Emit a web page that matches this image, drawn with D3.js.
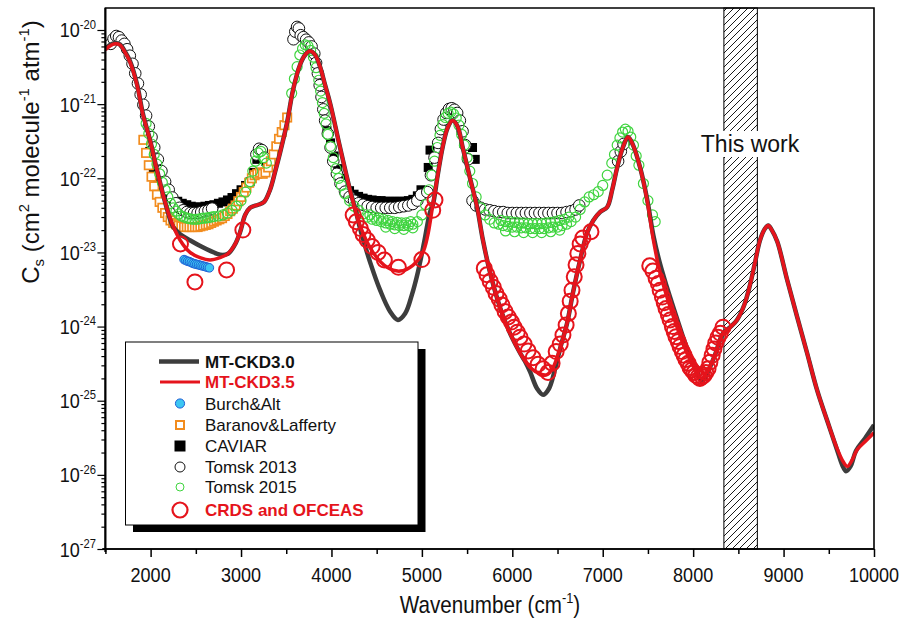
<!DOCTYPE html>
<html>
<head>
<meta charset="utf-8">
<script src="https://cdn.jsdelivr.net/npm/d3@7"></script>
<style>
  html, body { margin: 0; padding: 0; background: #fff; }
  svg text { font-family: "Liberation Sans", Arial, Helvetica, sans-serif; fill: #111; }
</style>
</head>
<body>
<svg id="chart" width="910" height="628"></svg>
<script>
// ---- Water vapour self-continuum cross-sections, Cs (cm2 molecule-1 atm-1) ----
// [wavenumber cm-1, Cs]

const mtckd35 = [
  [1500,5.4e-21],[1550,6.1e-21],[1605,6.5e-21],[1660,6.3e-21],[1717,5.0e-21],[1772,3.7e-21],
  [1850,1.8e-21],[1915,7.2e-22],[1993,3.3e-22],[2070,1.3e-22],[2140,5.9e-23],[2215,2.9e-23],
  [2325,1.47e-23],[2436,1.0e-23],[2546,8.5e-24],[2657,7.9e-24],[2768,8.5e-24],[2855,9.6e-24],
  [2930,1.26e-23],[2990,1.88e-23],[3045,3.2e-23],[3100,4.0e-23],[3190,4.4e-23],[3255,4.8e-23],
  [3320,6.95e-23],[3375,1.2e-22],[3431,2.2e-22],[3510,5.7e-22],[3575,1.55e-21],[3653,3.4e-21],
  [3708,4.6e-21],[3763,5.2e-21],[3820,4.6e-21],[3874,3.2e-21],[3930,1.8e-21],[3985,1.03e-21],
  [4095,2.6e-22],[4206,6.9e-23],[4316,2.3e-23],[4460,1.0e-23],[4615,6.3e-24],[4759,5.6e-24],
  [4900,6.7e-24],[5010,1.0e-23],[5065,1.7e-23],[5120,4.3e-23],[5175,1.1e-22],[5230,2.65e-22],
  [5285,4.8e-22],[5340,6.0e-22],[5395,5.0e-22],[5450,2.65e-22],[5530,1.03e-22],[5610,4.1e-23],
  [5675,1.47e-23],[5755,5.3e-24],[5865,1.8e-24],[5975,8.1e-25],[6086,4.4e-25],[6197,2.8e-25],
  [6307,2.3e-25],[6385,2.25e-25],[6450,2.8e-25],[6528,5.1e-25],[6605,1.1e-24],[6672,2.9e-24],
  [6750,7.9e-24],[6825,1.8e-23],[6895,2.7e-23],[6970,3.5e-23],[7050,4.1e-23],[7105,7.0e-23],
  [7160,1.4e-22],[7225,2.65e-22],[7280,3.6e-22],[7335,2.8e-22],[7413,1.4e-22],[7490,5.1e-23],
  [7560,1.47e-23],[7634,5.3e-24],[7710,2.5e-24],[7820,1.0e-24],[7930,4.4e-25],[8040,2.4e-25],
  [8095,2.0e-25],[8165,2.6e-25],[8240,4.1e-25],[8330,8.1e-25],[8410,9.8e-25],[8485,1.23e-24],
  [8565,1.95e-24],[8630,3.7e-24],[8685,7.4e-24],[8740,1.47e-23],[8795,2.1e-23],[8830,2.3e-23],
  [8870,2.0e-23],[8930,1.4e-23],[9040,4.25e-24],[9150,1.35e-24],[9260,4.4e-25],[9370,1.4e-25],
  [9480,5.5e-26],[9590,2.3e-26],[9660,1.5e-26],[9705,1.3e-26],[9760,1.6e-26],[9815,2.2e-26],
  [9900,2.8e-26],[10000,3.7e-26]
];

const mtckd30 = [
  [1500,5.6e-21],[1550,6.3e-21],[1605,6.7e-21],[1660,6.4e-21],[1717,5.1e-21],[1772,3.8e-21],
  [1850,1.85e-21],[1915,7.4e-22],[1993,3.3e-22],[2070,1.3e-22],[2140,5.9e-23],[2215,2.8e-23],
  [2250,2.2e-23],[2330,1.75e-23],[2440,1.45e-23],[2550,1.22e-23],[2660,1.05e-23],[2770,9.3e-24],
  [2855,9.6e-24],[2930,1.26e-23],[2990,1.88e-23],[3045,3.2e-23],[3100,4.0e-23],[3190,4.4e-23],
  [3255,4.8e-23],[3320,6.95e-23],[3375,1.2e-22],[3431,2.2e-22],[3510,5.7e-22],[3575,1.55e-21],
  [3653,3.4e-21],[3708,4.6e-21],[3763,5.2e-21],[3820,4.6e-21],[3874,3.2e-21],[3930,1.8e-21],
  [3985,1.03e-21],[4095,2.6e-22],[4206,6.9e-23],[4270,3.6e-23],[4316,2.1e-23],[4370,1.25e-23],
  [4427,7.4e-24],[4538,3.1e-24],[4648,1.6e-24],[4735,1.23e-24],[4815,1.5e-24],[4890,2.7e-24],
  [4957,5.5e-24],[5025,1.37e-23],[5090,3.5e-23],[5120,4.3e-23],[5175,1.1e-22],[5230,2.65e-22],
  [5285,4.8e-22],[5340,6.0e-22],[5395,5.0e-22],[5450,2.65e-22],[5530,1.03e-22],[5610,4.1e-23],
  [5675,1.47e-23],[5755,5.3e-24],[5865,1.8e-24],[5975,8.1e-25],[6086,4.4e-25],[6140,3.4e-25],
  [6197,2.45e-25],[6275,1.45e-25],[6340,1.2e-25],[6405,1.45e-25],[6470,2.6e-25],[6528,5.0e-25],
  [6605,1.1e-24],[6672,2.9e-24],[6750,7.9e-24],[6825,1.8e-23],[6895,2.7e-23],[6970,3.5e-23],
  [7050,4.1e-23],[7105,7.0e-23],[7160,1.4e-22],[7225,2.65e-22],[7280,3.6e-22],[7335,2.8e-22],
  [7413,1.4e-22],[7490,5.3e-23],[7560,1.7e-23],[7634,7.0e-24],[7710,3.4e-24],[7820,1.3e-24],
  [7930,5.2e-25],[8040,2.6e-25],[8095,1.8e-25],[8165,2.5e-25],[8240,4.1e-25],[8330,8.1e-25],
  [8410,9.8e-25],[8485,1.23e-24],[8565,1.95e-24],[8630,3.7e-24],[8685,7.4e-24],[8740,1.47e-23],
  [8795,2.1e-23],[8830,2.3e-23],[8870,2.0e-23],[8930,1.4e-23],[9040,4.25e-24],[9150,1.35e-24],
  [9260,4.4e-25],[9370,1.4e-25],[9480,5.5e-26],[9590,2.2e-26],[9650,1.35e-26],[9690,1.12e-26],
  [9740,1.3e-26],[9800,2.1e-26],[9900,3.1e-26],[10000,4.7e-26]
];

const burchAlt = [
  [2370,8.0e-24],[2390,7.8e-24],[2410,7.6e-24],[2430,7.5e-24],[2450,7.3e-24],[2470,7.1e-24],
  [2490,7.0e-24],[2510,6.9e-24],[2530,6.8e-24],[2550,6.7e-24],[2570,6.6e-24],[2590,6.5e-24],
  [2610,6.4e-24],[2630,6.3e-24],[2650,6.2e-24]
];

const baranovLafferty = [
  [1920,3.3e-22],[1950,2.2e-22],[1980,1.5e-22],[2010,1.05e-22],[2040,7.8e-23],[2070,6.0e-23],
  [2100,4.8e-23],[2130,4.0e-23],[2160,3.4e-23],[2190,3.0e-23],[2220,2.7e-23],[2250,2.5e-23],
  [2280,2.4e-23],[2310,2.3e-23],[2340,2.25e-23],[2370,2.2e-23],[2400,2.2e-23],[2430,2.2e-23],
  [2460,2.2e-23],[2490,2.2e-23],[2520,2.2e-23],[2550,2.25e-23],[2580,2.3e-23],[2610,2.35e-23],
  [2640,2.4e-23],[2670,2.5e-23],[2700,2.6e-23],[2730,2.7e-23],[2760,2.8e-23],[2790,2.9e-23],
  [2820,3.1e-23],[2850,3.3e-23],[2880,3.6e-23],[2910,3.9e-23],[2940,4.3e-23],[2970,4.9e-23],
  [3000,5.6e-23],[3030,6.5e-23],[3060,7.5e-23],[3090,8.7e-23],[3120,1.0e-22],[3150,1.1e-22],
  [3180,1.15e-22],[3210,1.2e-22],[3240,1.15e-22],[3270,1.2e-22],[3300,1.4e-22],[3330,1.7e-22],
  [3360,2.1e-22],[3390,2.7e-22],[3420,3.4e-22],[3450,4.2e-22],[3480,5.2e-22],[3510,6.6e-22]
];

const caviar = [
  [1990,2.3e-22],[2030,1.4e-22],[2040,1.3e-22],[2080,9.5e-23],[2120,7.5e-23],[2160,6.5e-23],
  [2200,5.8e-23],[2250,5.2e-23],[2300,4.9e-23],[2350,4.6e-23],[2400,4.4e-23],[2450,4.2e-23],
  [2500,4.1e-23],[2550,4.1e-23],[2600,4.2e-23],[2650,4.3e-23],[2700,4.4e-23],[2750,4.6e-23],
  [2800,4.8e-23],[2850,5.1e-23],[2900,5.5e-23],[2950,6.2e-23],[3000,7.0e-23],[3050,8.0e-23],
  [3100,9.0e-23],[3140,1.2e-22],[3175,1.8e-22],[3210,2.4e-22],[3240,2.2e-22],[3270,1.7e-22],
  [3950,4.4e-22],[3990,3.0e-22],[4030,2.0e-22],[4070,1.35e-22],[4110,1.0e-22],[4150,8.0e-23],
  [4200,6.8e-23],[4250,6.1e-23],[4300,5.7e-23],[4350,5.4e-23],[4400,5.2e-23],[4450,5.1e-23],
  [4500,5.0e-23],[4550,5.0e-23],[4600,4.9e-23],[4650,4.9e-23],[4700,4.9e-23],[4750,4.9e-23],
  [4800,4.9e-23],[4850,5.0e-23],[4900,5.2e-23],[4950,5.8e-23],[4990,7.0e-23],
  [5070,1.4e-22],[5090,2.4e-22],[5560,2.6e-22],[5590,1.8e-22]
];

const tomsk2013 = [
  [1560,6.5e-21],[1590,7.6e-21],[1620,8.3e-21],[1650,8.0e-21],[1680,7.2e-21],[1710,6.5e-21],
  [1740,5.5e-21],[1770,4.5e-21],[1800,3.5e-21],[1830,2.6e-21],[1860,1.9e-21],[1890,1.35e-21],
  [1920,9.8e-22],[1950,7.0e-22],[1980,5.0e-22],[2010,3.6e-22],[2040,2.6e-22],[2080,1.8e-22],
  [2120,1.25e-22],[2160,9.0e-23],[2200,7.0e-23],[2240,5.5e-23],[2280,4.6e-23],[2320,4.0e-23],
  [2360,3.7e-23],[2400,3.5e-23],[2440,3.4e-23],[2480,3.4e-23],[2520,3.4e-23],[2560,3.5e-23],
  [2600,3.6e-23],[2640,3.7e-23],[2680,3.9e-23],
  [3170,2.1e-22],[3200,2.5e-22],[3230,2.4e-22],[3260,1.9e-22],
  [3580,7.5e-21],[3600,9.5e-21],[3620,1.1e-20],[3640,1.05e-20],[3660,8.5e-21],[3690,8.0e-21],
  [3720,7.4e-21],[3750,6.8e-21],[3780,6.0e-21],[3810,4.8e-21],[3830,3.6e-21],[3850,2.6e-21],
  [3870,1.8e-21],[3890,1.25e-21],[3910,8.5e-22],[3930,6.0e-22],[3960,4.0e-22],[3990,2.6e-22],
  [4020,1.7e-22],[4060,1.15e-22],[4100,8.5e-23],[4150,6.6e-23],[4200,5.6e-23],[4250,5.0e-23],
  [4300,4.6e-23],[4350,4.4e-23],[4400,4.2e-23],[4450,4.1e-23],[4500,4.0e-23],[4550,4.0e-23],
  [4600,4.0e-23],[4650,4.0e-23],[4700,4.0e-23],[4750,4.1e-23],[4800,4.2e-23],[4850,4.3e-23],
  [4900,4.5e-23],[4950,5.0e-23],[4990,6.0e-23],
  [5060,6.5e-23],[5100,1.1e-22],[5140,1.9e-22],[5180,3.0e-22],[5210,4.6e-22],[5240,6.2e-22],
  [5270,7.6e-22],[5300,8.6e-22],[5330,8.8e-22],[5360,8.4e-22],[5390,7.6e-22],[5420,6.0e-22],
  [5450,4.3e-22],[5480,2.8e-22],[5510,1.8e-22],
  [5560,5.0e-23],[5600,4.3e-23],[5650,4.0e-23],[5700,3.8e-23],[5750,3.7e-23],[5800,3.6e-23],
  [5850,3.5e-23],[5900,3.5e-23],[5950,3.4e-23],[6000,3.4e-23],[6050,3.4e-23],[6100,3.4e-23],
  [6150,3.4e-23],[6200,3.4e-23],[6250,3.4e-23],[6300,3.4e-23],[6350,3.4e-23],[6400,3.4e-23],
  [6450,3.4e-23],[6500,3.4e-23],[6550,3.4e-23],[6600,3.5e-23],[6650,3.6e-23],[6700,3.8e-23],
  [6740,4.3e-23],
  [7170,1.7e-22],[7200,2.3e-22],[7230,2.9e-22]
];

const tomsk2015 = [
  [1950,5.5e-22],[1980,4.0e-22],[2010,2.9e-22],[2040,2.1e-22],[2070,1.55e-22],[2100,1.15e-22],
  [2130,8.8e-23],[2160,7.0e-23],[2190,5.6e-23],[2220,4.6e-23],[2250,4.0e-23],[2280,3.6e-23],
  [2310,3.3e-23],[2340,3.1e-23],[2370,3.0e-23],[2400,2.9e-23],[2430,2.85e-23],[2460,2.8e-23],
  [2490,2.8e-23],[2520,2.8e-23],[2550,2.85e-23],[2580,2.9e-23],[2610,2.9e-23],[2640,2.95e-23],
  [2670,3.0e-23],[2700,3.05e-23],[2750,3.1e-23],[2800,3.2e-23],[2850,3.4e-23],[2900,3.7e-23],
  [2950,4.2e-23],[3000,5.0e-23],[3050,6.5e-23],[3100,9.0e-23],[3130,1.25e-22],[3160,1.7e-22],
  [3190,2.2e-22],[3220,2.3e-22],[3250,1.9e-22],[3280,1.6e-22],
  [3560,1.4e-21],[3590,2.2e-21],[3620,3.2e-21],[3650,4.6e-21],[3680,5.6e-21],[3710,6.3e-21],
  [3740,6.1e-21],[3770,5.3e-21],[3800,4.3e-21],[3830,3.1e-21],[3860,2.1e-21],[3880,1.5e-21],
  [3900,1.05e-21],[3920,7.5e-22],[3940,5.4e-22],[3960,3.9e-22],[3990,2.7e-22],[4020,1.9e-22],
  [4050,1.35e-22],[4080,1.0e-22],[4110,8.0e-23],[4150,6.2e-23],[4200,5.0e-23],[4250,4.2e-23],
  [4300,3.7e-23],[4350,3.3e-23],[4400,3.0e-23],[4450,2.8e-23],[4500,2.7e-23],[4550,2.6e-23],
  [4600,2.5e-23],[4650,2.4e-23],[4700,2.35e-23],[4750,2.3e-23],[4800,2.3e-23],[4850,2.3e-23],
  [4900,2.4e-23],[4950,2.6e-23],[5000,3.2e-23],[5040,4.4e-23],[5080,7.0e-23],[5110,1.1e-22],
  [5140,1.7e-22],[5170,2.6e-22],[5200,3.8e-22],[5230,5.3e-22],[5260,6.6e-22],[5290,7.5e-22],
  [5320,7.8e-22],[5350,7.4e-22],[5380,6.5e-22],[5410,5.2e-22],[5440,3.9e-22],[5470,2.8e-22],
  [5500,1.9e-22],[5530,1.25e-22],[5560,8.5e-23],[5600,5.6e-23],[5650,4.0e-23],[5700,3.2e-23],
  [5750,2.8e-23],[5800,2.5e-23],[5850,2.4e-23],[5900,2.3e-23],[5950,2.25e-23],[6000,2.2e-23],
  [6050,2.2e-23],[6100,2.15e-23],[6150,2.15e-23],[6200,2.1e-23],[6250,2.1e-23],[6300,2.1e-23],
  [6350,2.1e-23],[6400,2.15e-23],[6450,2.2e-23],[6500,2.2e-23],[6550,2.3e-23],[6600,2.4e-23],
  [6650,2.6e-23],[6700,3.0e-23],[6750,3.8e-23],[6800,4.8e-23],[6850,5.6e-23],[6900,6.0e-23],
  [6950,6.6e-23],[7000,8.0e-23],[7050,1.1e-22],[7100,1.6e-22],[7130,2.1e-22],[7160,2.8e-22],
  [7190,3.5e-22],[7220,4.2e-22],[7250,4.6e-22],[7280,4.3e-22],[7310,3.6e-22],[7340,2.8e-22],
  [7370,2.0e-22],[7400,1.5e-22],[7450,8.5e-23],[7500,5.0e-23],[7550,3.2e-23],[7580,2.6e-23],
  [4425,3.2e-23],[4475,3.0e-23],[4525,2.9e-23],[4575,2.8e-23],[4625,2.7e-23],[4675,2.6e-23],
  [4725,2.55e-23],[4775,2.5e-23],[4825,2.5e-23],[4875,2.6e-23],
  [4600,2.2e-23],[4700,2.1e-23],[4800,2.05e-23],[4900,2.15e-23],
  [5875,2.7e-23],[5925,2.6e-23],[5975,2.6e-23],[6025,2.55e-23],[6075,2.5e-23],[6125,2.5e-23],
  [6175,2.45e-23],[6225,2.45e-23],[6275,2.45e-23],[6325,2.45e-23],[6375,2.5e-23],[6425,2.55e-23],
  [6475,2.6e-23],[6525,2.7e-23],[6575,2.8e-23],[6625,3.0e-23],
  [5925,1.95e-23],[6025,1.9e-23],[6125,1.85e-23],[6225,1.85e-23],[6325,1.85e-23],[6425,1.9e-23],
  [6525,2.0e-23]
];

const crdsOfceas = [
  [2330,1.3e-23],[2490,4.0e-24],[2840,5.8e-24],[3020,2.0e-23],
  [4240,3.2e-23],[4275,2.6e-23],[4320,2.1e-23],[4350,1.75e-23],[4395,1.47e-23],[4450,1.2e-23],
  [4515,1.0e-23],[4585,7.9e-24],[4740,6.3e-24],[5000,8.0e-24],[5120,3.7e-23],[5145,5.1e-23],
  [5690,6.1e-24],[5720,5.0e-24],[5755,4.1e-24],[5790,3.4e-24],[5820,2.8e-24],[5855,2.35e-24],
  [5885,1.95e-24],[5920,1.6e-24],[5955,1.35e-24],[5990,1.15e-24],[6020,9.8e-25],[6055,8.4e-25],
  [6085,7.2e-25],[6130,5.8e-25],[6175,4.7e-25],[6230,3.8e-25],[6285,3.1e-25],[6340,2.7e-25],
  [6395,2.4e-25],[6440,3.2e-25],[6485,4.6e-25],[6530,5.8e-25],[6560,7.7e-25],[6595,1.05e-24],
  [6620,1.5e-24],[6640,2.2e-24],[6660,3.1e-24],[6685,4.7e-24],[6705,6.8e-24],[6725,9.7e-24],
  [6750,1.3e-23],[6780,1.57e-23],[6870,1.9e-23],
  [7520,6.6e-24],[7555,5.6e-24],[7590,4.5e-24],[7615,3.8e-24],[7635,3.1e-24],[7660,2.5e-24],
  [7680,2.1e-24],[7700,1.75e-24],[7725,1.45e-24],[7745,1.23e-24],[7770,1.0e-24],[7790,8.6e-25],
  [7810,7.3e-25],[7835,6.3e-25],[7855,5.4e-25],[7880,4.6e-25],[7900,4.1e-25],[7920,3.6e-25],
  [7945,3.2e-25],[7965,2.8e-25],[7985,2.6e-25],[8010,2.4e-25],[8030,2.2e-25],[8055,2.1e-25],
  [8075,2.0e-25],[8100,2.1e-25],[8120,2.2e-25],[8140,2.4e-25],[8165,2.7e-25],[8185,3.3e-25],
  [8210,4.1e-25],[8230,5.0e-25],[8250,6.0e-25],[8275,7.2e-25],[8300,8.1e-25],[8330,9.8e-25]
];

// spectral interval studied here (hatched band)
const thisWorkRange = [8340, 8710];
const thisWorkLabel = "This work";

// axis ticks
const xTicks = [2000, 3000, 4000, 5000, 6000, 7000, 8000, 9000, 10000];
const xMinorTicks = [1500, 2500, 3500, 4500, 5500, 6500, 7500, 8500, 9500];
const yTickExponents = [-27, -26, -25, -24, -23, -22, -21, -20];

const legendLabels = ["MT-CKD3.0", "MT-CKD3.5", "Burch&Alt", "Baranov&Lafferty",
                      "CAVIAR", "Tomsk 2013", "Tomsk 2015", "CRDS and OFCEAS"];

// ---------------------------------------------------------------------------
const W = 910, H = 628;
const P = { left: 105.4, right: 874, top: 8, bottom: 549 };

const x = d3.scaleLinear().domain([1500, 10000]).range([P.left, P.right]);
const y = d3.scaleLog().domain([1e-27, 1.98e-20]).range([P.bottom, P.top]);

const svg = d3.select("#chart");
svg.append("rect").attr("width", W).attr("height", H).attr("fill", "#fff");

const defs = svg.append("defs");
defs.append("clipPath").attr("id", "plotClip")
  .append("rect").attr("x", P.left).attr("y", P.top)
  .attr("width", P.right - P.left).attr("height", P.bottom - P.top);

const hatch = defs.append("pattern").attr("id", "hatch")
  .attr("patternUnits", "userSpaceOnUse").attr("width", 7).attr("height", 7);
hatch.append("path").attr("d", "M-1,1 L1,-1 M0,7 L7,0 M6,8 L8,6")
  .attr("stroke", "#000").attr("stroke-width", 0.9);

const COLORS = {
  ckd30: "#3d3d3d", ckd35: "#e5141c", green: "#3fd43f", orange: "#f28c1e",
  cyan: "#3cc6f2", blue: "#1d5fd6", black: "#000"
};

// Text helper: parts [{t, sup, sub}] written as tspans with raised/lowered pieces
function richText(g, parts, size, opts) {
  const t = g.append("text")
    .attr("font-size", size)
    .attr("text-anchor", opts.anchor || "start")
    .attr("font-weight", opts.weight || "normal")
    .attr("transform", `translate(${opts.x},${opts.y})` + (opts.rotate ? ` rotate(${opts.rotate})` : "") +
                       (opts.sx ? ` scale(${opts.sx},1)` : ""));
  if (opts.fill) t.style("fill", opts.fill);
  let shift = 0;
  parts.forEach(p => {
    const ts = t.append("tspan").text(p.t);
    let target = 0;
    if (p.sup) { ts.attr("font-size", size * 0.62); target = -size * 0.42; }
    else if (p.sub) { ts.attr("font-size", size * 0.62); target = size * 0.22; }
    if (target !== shift) { ts.attr("dy", target - shift); shift = target; }
  });
  return t;
}

const plot = svg.append("g");

// hatched band marking the studied interval
const band = plot.append("g");
band.append("rect")
  .attr("x", x(thisWorkRange[0])).attr("y", P.top)
  .attr("width", x(thisWorkRange[1]) - x(thisWorkRange[0]))
  .attr("height", P.bottom - P.top)
  .attr("fill", "url(#hatch)").attr("stroke", "#000").attr("stroke-width", 1);

const labelX = 750;
band.append("rect")
  .attr("x", labelX - 51).attr("y", 131).attr("width", 102).attr("height", 26)
  .attr("fill", "#fff");
richText(band, [{ t: thisWorkLabel }], 23, { x: labelX, y: 152, anchor: "middle" });

const data = plot.append("g").attr("clip-path", "url(#plotClip)");
const sq = 9;

// CAVIAR
data.append("g").selectAll("rect").data(caviar).join("rect")
  .attr("x", d => x(d[0]) - sq / 2).attr("y", d => y(d[1]) - sq / 2)
  .attr("width", sq).attr("height", sq).attr("fill", COLORS.black);

// Tomsk 2013
data.append("g").selectAll("circle").data(tomsk2013).join("circle")
  .attr("cx", d => x(d[0])).attr("cy", d => y(d[1])).attr("r", 5.8)
  .attr("fill", "#fff").attr("stroke", "#111").attr("stroke-width", 1);

// Baranov & Lafferty
data.append("g").selectAll("rect").data(baranovLafferty).join("rect")
  .attr("x", d => x(d[0]) - 4.2).attr("y", d => y(d[1]) - 4.2)
  .attr("width", 8.4).attr("height", 8.4)
  .attr("fill", "#fff").attr("stroke", COLORS.orange).attr("stroke-width", 1.7);

// Tomsk 2015
data.append("g").selectAll("circle").data(tomsk2015).join("circle")
  .attr("cx", d => x(d[0])).attr("cy", d => y(d[1])).attr("r", 5)
  .attr("fill", "none").attr("stroke", COLORS.green).attr("stroke-width", 1.2);

// Burch & Alt
data.append("g").selectAll("circle").data(burchAlt).join("circle")
  .attr("cx", d => x(d[0])).attr("cy", d => y(d[1])).attr("r", 4.3)
  .attr("fill", COLORS.cyan).attr("stroke", COLORS.blue).attr("stroke-width", 1);

// MT-CKD model curves
const line = d3.line().x(d => x(d[0])).y(d => y(d[1])).curve(d3.curveCatmullRom.alpha(0.5));
data.append("path").datum(mtckd30).attr("d", line)
  .attr("fill", "none").attr("stroke", COLORS.ckd30).attr("stroke-width", 4.5)
  .attr("stroke-linejoin", "round");
data.append("path").datum(mtckd35).attr("d", line)
  .attr("fill", "none").attr("stroke", COLORS.ckd35).attr("stroke-width", 3.5)
  .attr("stroke-linejoin", "round");

// CRDS and OFCEAS
data.append("g").selectAll("circle").data(crdsOfceas).join("circle")
  .attr("cx", d => x(d[0])).attr("cy", d => y(d[1])).attr("r", 7.5)
  .attr("fill", "none").attr("stroke", COLORS.ckd35).attr("stroke-width", 2);

// ---- frame and axes ----
const axisW = 1.6;
plot.append("path")
  .attr("d", `M${P.left},${P.bottom} V${P.top} H${P.right} V${P.bottom}`)
  .attr("fill", "none").attr("stroke", "#000").attr("stroke-width", axisW);

const xAxisG = svg.append("g").attr("transform", `translate(0,${P.bottom})`);
xAxisG.call(d3.axisBottom(x).tickValues(xTicks).tickSize(8).tickSizeOuter(0).tickFormat(""));
const xMinorG = svg.append("g").attr("transform", `translate(0,${P.bottom})`);
xMinorG.call(d3.axisBottom(x).tickValues(xMinorTicks).tickSize(5).tickSizeOuter(0).tickFormat(""));
[xAxisG, xMinorG].forEach(g => {
  g.selectAll("line").attr("stroke", "#000").attr("stroke-width", 1.5);
  g.select(".domain").attr("stroke", "#000").attr("stroke-width", axisW)
    .attr("d", `M${P.left - 3},0 H${P.right}`);
});

const yMajor = yTickExponents.map(e => Math.pow(10, e));
const yMinor = [];
yTickExponents.forEach(e => {
  for (let k = 2; k <= 9; k++) {
    const v = k * Math.pow(10, e);
    if (v <= y.domain()[1]) yMinor.push(v);
  }
});
const yAxisG = svg.append("g").attr("transform", `translate(${P.left},0)`);
yAxisG.call(d3.axisLeft(y).tickValues(yMajor).tickSize(8).tickSizeOuter(0).tickFormat(""));
const yMinorG = svg.append("g").attr("transform", `translate(${P.left},0)`);
yMinorG.call(d3.axisLeft(y).tickValues(yMinor).tickSize(4).tickSizeOuter(0).tickFormat(""));
[yAxisG, yMinorG].forEach(g => {
  g.selectAll("line").attr("stroke", "#000").attr("stroke-width", 1.2);
  g.select(".domain").attr("stroke", "#000").attr("stroke-width", axisW)
    .attr("d", `M0,${P.top} V${P.bottom + 3}`);
});

// tick labels
const labels = svg.append("g");
xTicks.forEach(v => {
  richText(labels, [{ t: String(v) }], 21, { x: x(v), y: 582, anchor: "middle", sx: 0.86 });
});
yTickExponents.forEach(e => {
  richText(labels, [{ t: "10" }, { t: String(e), sup: true }], 21,
    { x: 96, y: y(Math.pow(10, e)) + 7.5, anchor: "end", sx: 0.86 });
});

// axis titles
richText(labels, [{ t: "Wavenumber (cm" }, { t: "-1", sup: true }, { t: ")" }], 24,
  { x: 490, y: 613, anchor: "middle", sx: 0.86 });
richText(labels, [{ t: "C" }, { t: "s", sub: true }, { t: " (cm" }, { t: "2", sup: true },
                  { t: " molecule" }, { t: "-1", sup: true }, { t: " atm" }, { t: "-1", sup: true },
                  { t: ")" }], 24,
  { x: 39, y: 152, anchor: "middle", rotate: -90 });

// ---- legend ----
const L = { x: 125.5, y: 342, w: 292.5, h: 183 };
const leg = svg.append("g");
leg.append("rect").attr("x", L.x + 7.5).attr("y", L.y + 7).attr("width", L.w).attr("height", L.h)
  .attr("fill", "#000");
leg.append("rect").attr("x", L.x).attr("y", L.y).attr("width", L.w).attr("height", L.h)
  .attr("fill", "#fff").attr("stroke", "#000").attr("stroke-width", 1);

const rowY = [361.5, 382, 403.5, 425, 446, 467, 487, 510];
const mx = 180, tx = 205;
const legendSymbols = [
  g => g.append("line").attr("x1", 159).attr("x2", 199).attr("stroke", COLORS.ckd30).attr("stroke-width", 4.5),
  g => g.append("line").attr("x1", 160).attr("x2", 200).attr("stroke", COLORS.ckd35).attr("stroke-width", 3),
  g => g.append("circle").attr("cx", mx).attr("r", 4.6).attr("fill", COLORS.cyan).attr("stroke", COLORS.blue).attr("stroke-width", 1),
  g => g.append("rect").attr("x", mx - 4).attr("y", -4).attr("width", 8).attr("height", 8).attr("fill", "#fff").attr("stroke", COLORS.orange).attr("stroke-width", 2),
  g => g.append("rect").attr("x", mx - 5.5).attr("y", -5.5).attr("width", 11).attr("height", 11).attr("fill", "#000"),
  g => g.append("circle").attr("cx", mx).attr("r", 5).attr("fill", "#fff").attr("stroke", "#111").attr("stroke-width", 1),
  g => g.append("circle").attr("cx", mx).attr("r", 4).attr("fill", "none").attr("stroke", COLORS.green).attr("stroke-width", 1),
  g => g.append("circle").attr("cx", mx).attr("r", 7.5).attr("fill", "none").attr("stroke", COLORS.ckd35).attr("stroke-width", 2.2)
];
const legendStyle = [
  { w: "bold", c: "#111" }, { w: "bold", c: COLORS.ckd35 }, { w: "normal", c: "#111" },
  { w: "normal", c: "#111" }, { w: "normal", c: "#111" }, { w: "normal", c: "#111" },
  { w: "normal", c: "#111" }, { w: "bold", c: COLORS.ckd35 }
];
legendLabels.forEach((lab, i) => {
  const g = leg.append("g").attr("transform", `translate(0,${rowY[i]})`);
  legendSymbols[i](g);
  richText(g, [{ t: lab }], 17, { x: tx, y: 6, weight: legendStyle[i].w, fill: legendStyle[i].c });
});
</script>
</body>
</html>
